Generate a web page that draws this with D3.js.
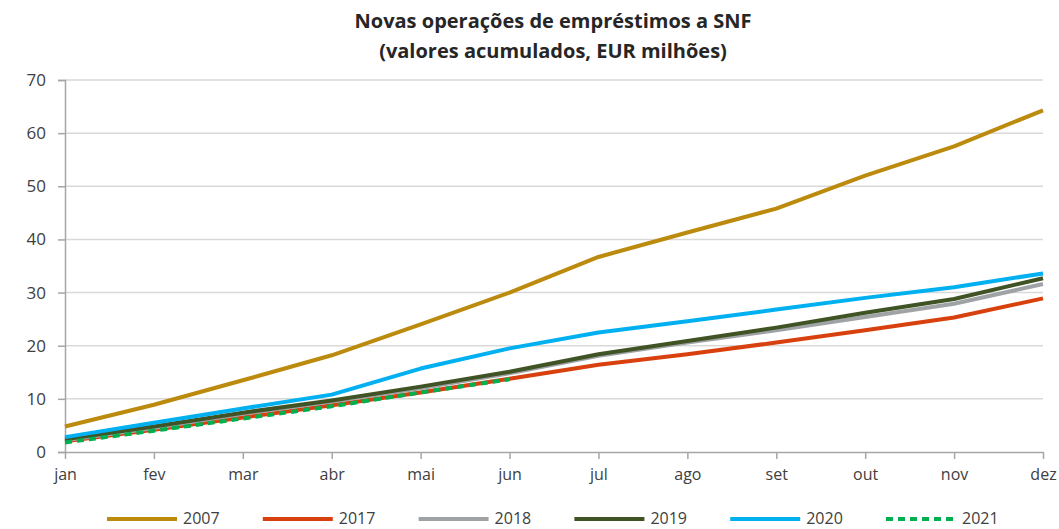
<!DOCTYPE html>
<html>
<head>
<meta charset="utf-8">
<script src="https://cdn.jsdelivr.net/npm/d3@7"></script>
<style>
  body { margin: 0; background: #fff; }
  svg text { font-family: "Open Sans", "Noto Sans", sans-serif; fill: #404040; }
</style>
</head>
<body>
<div id="chart"></div>
<script>
// Daten
const months = ["jan", "fev", "mar", "abr", "mai", "jun", "jul", "ago", "set", "out", "nov", "dez"];
const yTicks = [0, 10, 20, 30, 40, 50, 60, 70];
const v2007 = [4.8, 8.9, 13.5, 18.2, 24.0, 30.0, 36.7, 41.3, 45.8, 52.0, 57.5, 64.3];
const v2017 = [2.0, 4.2, 6.5, 8.8, 11.2, 13.8, 16.4, 18.4, 20.6, 22.9, 25.3, 28.9];
const v2018 = [2.2, 4.5, 7.2, 9.5, 12.0, 14.8, 18.1, 20.6, 22.9, 25.4, 27.9, 31.6];
const v2019 = [2.4, 4.8, 7.4, 9.7, 12.3, 15.1, 18.4, 20.9, 23.4, 26.2, 28.8, 32.7];
const v2020 = [2.8, 5.5, 8.2, 10.8, 15.7, 19.5, 22.5, 24.6, 26.8, 29.0, 31.0, 33.6];
const v2021 = [1.8, 4.0, 6.3, 8.6, 11.2, 13.7];

const series = [
  { name: "2007", values: v2007, color: "#BC8A0C", dash: null },
  { name: "2017", values: v2017, color: "#D8400E", dash: null },
  { name: "2018", values: v2018, color: "#A0A3A6", dash: null },
  { name: "2019", values: v2019, color: "#3F5324", dash: null },
  { name: "2020", values: v2020, color: "#00B0F0", dash: null },
  { name: "2021", values: v2021, color: "#00B050", dash: "7,5" }
];

const W = 1059, H = 529;
const margin = { top: 80, right: 16, bottom: 77, left: 65 };

const svg = d3.select("#chart").append("svg")
  .attr("width", W)
  .attr("height", H);

// Titel
svg.append("text")
  .attr("x", 553).attr("y", 28)
  .attr("text-anchor", "middle")
  .style("font-size", "20px").style("font-weight", "bold").style("fill", "#262626")
  .text("Novas operações de empréstimos a SNF");
svg.append("text")
  .attr("x", 553).attr("y", 58)
  .attr("text-anchor", "middle")
  .style("font-size", "20px").style("font-weight", "bold").style("fill", "#262626")
  .text("(valores acumulados, EUR milhões)");

const x = d3.scalePoint()
  .domain(months)
  .range([margin.left, W - margin.right]);

const y = d3.scaleLinear()
  .domain([0, 70])
  .range([H - margin.bottom, margin.top]);

// Gitterlinien
svg.append("g")
  .selectAll("line")
  .data(yTicks.filter(t => t > 0))
  .enter().append("line")
  .attr("x1", margin.left).attr("x2", W - margin.right)
  .attr("y1", d => y(d)).attr("y2", d => y(d))
  .attr("stroke", "#D9D9D9").attr("stroke-width", 1.5);

// Y-Achse
const yAxis = svg.append("g")
  .attr("transform", `translate(${margin.left},0)`)
  .call(d3.axisLeft(y).tickValues(yTicks).tickSize(7).tickPadding(12));
yAxis.select(".domain").attr("stroke", "#A6A6A6").attr("stroke-width", 1.5);
yAxis.selectAll(".tick line").attr("stroke", "#A6A6A6").attr("stroke-width", 1.5);
yAxis.selectAll("text").style("font-size", "17px").style("fill", "#404040");

// X-Achse
const xAxis = svg.append("g")
  .attr("transform", `translate(0,${y(0)})`)
  .call(d3.axisBottom(x).tickSize(7).tickSizeOuter(0).tickPadding(10));
xAxis.select(".domain").attr("stroke", "#A6A6A6").attr("stroke-width", 1.5);
xAxis.selectAll(".tick line").attr("stroke", "#A6A6A6").attr("stroke-width", 1.5);
xAxis.selectAll("text").style("font-size", "16px").style("fill", "#404040");

// Linien
const line = d3.line()
  .x((d, i) => x(months[i]))
  .y(d => y(d));

svg.append("g")
  .selectAll("path")
  .data(series)
  .enter().append("path")
  .attr("fill", "none")
  .attr("stroke", d => d.color)
  .attr("stroke-width", 4)
  .attr("stroke-linejoin", "round")
  .attr("stroke-dasharray", d => d.dash)
  .attr("d", d => line(d.values));

// Legende
const legend = svg.append("g")
  .attr("transform", "translate(107,519)");

const item = legend.selectAll("g")
  .data(series)
  .enter().append("g")
  .attr("transform", (d, i) => `translate(${i * 155.8},0)`);

item.append("line")
  .attr("x1", 0).attr("x2", 70)
  .attr("y1", 0).attr("y2", 0)
  .attr("stroke", d => d.color)
  .attr("stroke-width", 4)
  .attr("stroke-dasharray", d => d.dash);

item.append("text")
  .attr("x", 76).attr("y", 5)
  .style("font-size", "16px").style("fill", "#404040")
  .text(d => d.name);
</script>
</body>
</html>
